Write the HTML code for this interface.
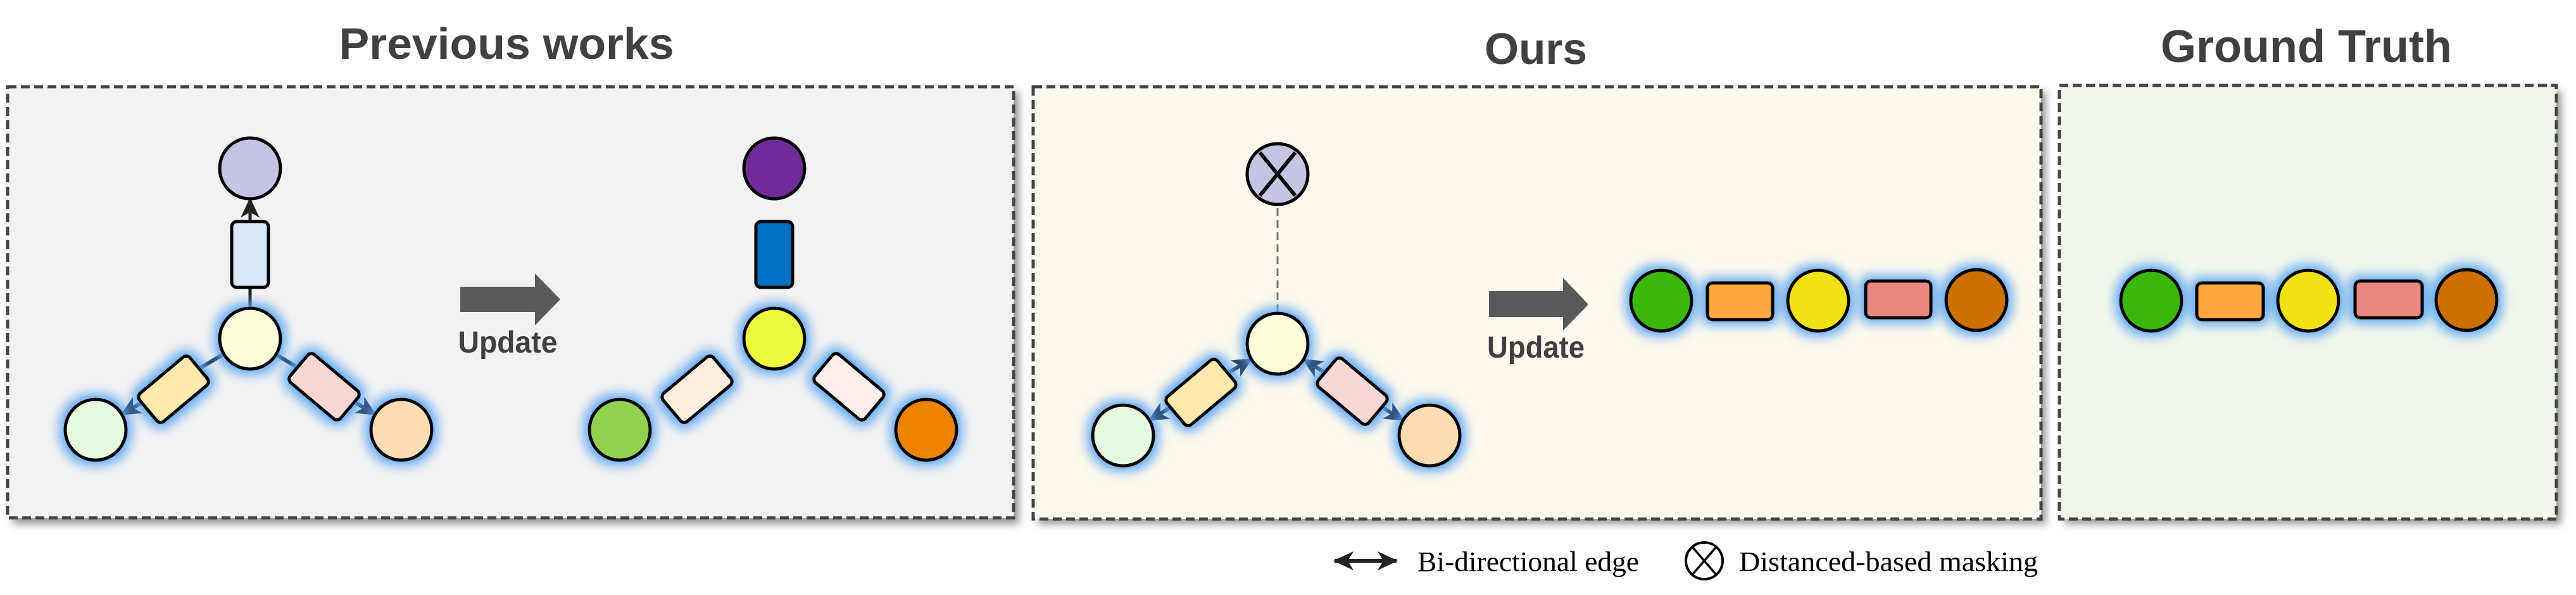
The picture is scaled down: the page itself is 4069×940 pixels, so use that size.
<!DOCTYPE html>
<html><head><meta charset="utf-8"><style>html,body{margin:0;padding:0;background:#fff}svg{display:block}</style></head>
<body>
<svg width="4069" height="940" viewBox="0 0 4069 940" xmlns="http://www.w3.org/2000/svg">
<defs>
<filter id="gl" x="-60%" y="-60%" width="220%" height="220%">
<feMorphology in="SourceAlpha" operator="dilate" radius="6" result="d"/>
<feGaussianBlur in="d" stdDeviation="9" result="b"/>
<feFlood flood-color="#5ea6f2"/>
<feComposite in2="b" operator="in" result="c"/>
<feMerge><feMergeNode in="c"/><feMergeNode in="SourceGraphic"/></feMerge>
</filter>
<filter id="sh" x="-5%" y="-5%" width="110%" height="115%"><feGaussianBlur stdDeviation="6"/></filter>
<marker id="ar" markerUnits="userSpaceOnUse" markerWidth="32" markerHeight="30" refX="30" refY="15" orient="auto-start-reverse">
<path d="M0,0 L32,15 L0,30 L9,15 Z" fill="#1d3557"/>
</marker>
<marker id="ak" markerUnits="userSpaceOnUse" markerWidth="32" markerHeight="30" refX="30" refY="15" orient="auto-start-reverse">
<path d="M0,0 L32,15 L0,30 L9,15 Z" fill="#222"/>
</marker>
</defs>

<!-- panels -->
<rect x="20" y="145" width="1590" height="683" fill="#999" filter="url(#sh)"/>
<rect x="12" y="137" width="1589" height="681" fill="#f2f2f2" stroke="#444" stroke-width="5" stroke-dasharray="14 7"/>
<rect x="1640" y="145" width="1592" height="683" fill="#999" filter="url(#sh)"/>
<rect x="1632" y="137" width="1592" height="683" fill="#fdf9ee" stroke="#444" stroke-width="5" stroke-dasharray="14 7"/>
<rect x="3261" y="143" width="785" height="685" fill="#999" filter="url(#sh)"/>
<rect x="3253" y="135" width="785" height="685" fill="#f1f7ec" stroke="#444" stroke-width="5" stroke-dasharray="14 7"/>

<!-- titles -->
<text x="800" y="93" text-anchor="middle" font-family="Liberation Sans, sans-serif" font-weight="bold" font-size="70" fill="#404040" textLength="529" lengthAdjust="spacingAndGlyphs">Previous works</text>
<text x="2426" y="101" text-anchor="middle" font-family="Liberation Sans, sans-serif" font-weight="bold" font-size="70" fill="#404040" textLength="162" lengthAdjust="spacingAndGlyphs">Ours</text>
<text x="3643" y="98" text-anchor="middle" font-family="Liberation Sans, sans-serif" font-weight="bold" font-size="72" fill="#404040" textLength="460" lengthAdjust="spacingAndGlyphs">Ground Truth</text>

<g stroke="#000" stroke-width="5">
<!-- Graph 1 -->
<g transform="translate(395,535)">
<line x1="0" y1="-48" x2="0" y2="-221" stroke="#222" marker-end="url(#ak)"/>
<line x1="-41" y1="24" x2="-203" y2="120" stroke="#1d3557" stroke-width="6" marker-end="url(#ar)"/>
<line x1="41" y1="25" x2="198" y2="120" stroke="#1d3557" stroke-width="6" marker-end="url(#ar)"/>
<circle cx="0" cy="-269" r="48" fill="#c5c5e3"/>
<rect x="-29" y="-185" width="58" height="104" rx="8" fill="#dae8fc"/>
<g filter="url(#gl)">
<circle cx="0" cy="0" r="48" fill="#fdffdc"/>
<circle cx="-244" cy="144" r="48" fill="#e6fae0"/>
<circle cx="239" cy="144" r="48" fill="#fcdcb4"/>
<rect x="-52" y="-29" width="104" height="58" rx="8" fill="#ffe9ad" transform="translate(-121,80) rotate(-40)"/>
<rect x="-52" y="-29" width="104" height="58" rx="8" fill="#f7d7d5" transform="translate(117,76) rotate(40)"/>
</g>
</g>
<!-- Graph 2 -->
<g transform="translate(1223,535)">
<circle cx="0" cy="-269" r="48" fill="#6f2c98"/>
<rect x="-29" y="-185" width="58" height="104" rx="8" fill="#0070c0"/>
<g filter="url(#gl)">
<circle cx="0" cy="0" r="48" fill="#ecfb3c"/>
<circle cx="-244" cy="144" r="48" fill="#92d050"/>
<circle cx="240" cy="144" r="48" fill="#ed8400"/>
<rect x="-52" y="-29" width="104" height="58" rx="8" fill="#fdeedd" transform="translate(-122,80) rotate(-40)"/>
<rect x="-52" y="-29" width="104" height="58" rx="8" fill="#fbeeeb" transform="translate(118,76) rotate(40)"/>
</g>
</g>
<!-- Graph 3 (Ours) -->
<g transform="translate(2018,543)">
<line x1="0" y1="-50" x2="0" y2="-220" stroke="#777" stroke-width="3" stroke-dasharray="12 7"/>
<line x1="-41" y1="24" x2="-203" y2="121" stroke="#1d3557" stroke-width="6" marker-start="url(#ar)" marker-end="url(#ar)"/>
<line x1="41" y1="25" x2="199" y2="121" stroke="#1d3557" stroke-width="6" marker-start="url(#ar)" marker-end="url(#ar)"/>
<circle cx="0" cy="-268" r="48" fill="#c5c5e3"/>
<line x1="-28" y1="-302" x2="28" y2="-234" stroke-width="6"/>
<line x1="28" y1="-302" x2="-28" y2="-234" stroke-width="6"/>
<g filter="url(#gl)">
<circle cx="0" cy="0" r="48" fill="#fdffdc"/>
<circle cx="-244" cy="145" r="48" fill="#e6fae0"/>
<circle cx="240" cy="145" r="48" fill="#fcdcb4"/>
<rect x="-52" y="-29" width="104" height="58" rx="8" fill="#ffe9ad" transform="translate(-121,77) rotate(-40)"/>
<rect x="-52" y="-29" width="104" height="58" rx="8" fill="#f7d7d5" transform="translate(118,75) rotate(40)"/>
</g>
</g>
<!-- chain Ours -->
<g filter="url(#gl)">
<circle cx="2624" cy="475" r="48" fill="#3bb70a"/>
<rect x="2697" y="447" width="103" height="58" rx="8" fill="#fea83e"/>
<circle cx="2872" cy="475" r="48" fill="#efe314"/>
<rect x="2947" y="444" width="103" height="58" rx="8" fill="#ea8782"/>
<circle cx="3122" cy="474" r="48" fill="#cc7000"/>
</g>
<!-- chain GT -->
<g filter="url(#gl)">
<circle cx="3398" cy="475" r="48" fill="#3bb70a"/>
<rect x="3470" y="447" width="105" height="58" rx="8" fill="#fea83e"/>
<circle cx="3646" cy="475" r="48" fill="#efe314"/>
<rect x="3720" y="444" width="106" height="58" rx="8" fill="#ea8782"/>
<circle cx="3896" cy="474" r="48" fill="#cc7000"/>
</g>
</g>

<!-- Update arrows -->
<path d="M727,453 H845 V432 L885,473 L845,514 V493 H727 Z" fill="#595959"/>
<text x="802" y="557" text-anchor="middle" font-family="Liberation Sans, sans-serif" font-weight="bold" font-size="48" fill="#404040" textLength="157" lengthAdjust="spacingAndGlyphs">Update</text>
<path d="M2352,460 H2469 V439 L2509,481 L2469,522 V501 H2352 Z" fill="#595959"/>
<text x="2426" y="565" text-anchor="middle" font-family="Liberation Sans, sans-serif" font-weight="bold" font-size="48" fill="#404040" textLength="154" lengthAdjust="spacingAndGlyphs">Update</text>

<!-- legend -->
<line x1="2108" y1="886" x2="2206" y2="886" stroke="#222" stroke-width="6" marker-start="url(#ak)" marker-end="url(#ak)"/>
<text x="2239" y="902" font-family="Liberation Serif, serif" font-size="44" fill="#000" textLength="350" lengthAdjust="spacingAndGlyphs">Bi-directional edge</text>
<circle cx="2692" cy="886" r="29" fill="none" stroke="#000" stroke-width="4"/>
<line x1="2673" y1="864" x2="2711" y2="908" stroke="#000" stroke-width="3.5"/>
<line x1="2711" y1="864" x2="2673" y2="908" stroke="#000" stroke-width="3.5"/>
<text x="2747" y="902" font-family="Liberation Serif, serif" font-size="44" fill="#000" textLength="472" lengthAdjust="spacingAndGlyphs">Distanced-based masking</text>
</svg>
</body></html>
